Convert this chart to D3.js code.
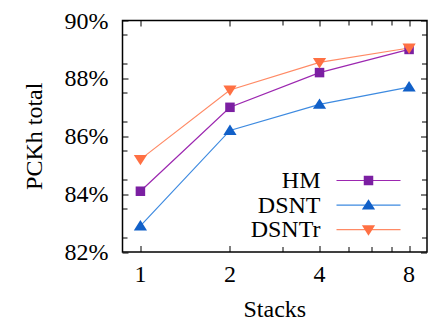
<!DOCTYPE html>
<html>
<head>
<meta charset="utf-8">
<script src="https://cdn.jsdelivr.net/npm/d3@7"></script>
<style>
  @font-face {
    font-family: 'PlotSerif';
    src: local('Liberation Serif'), local('LiberationSerif'), local('LiberationSerif-Regular'), local('Times New Roman');
    font-display: block;
  }
  body { margin: 0; background: #fff; }
</style>
</head>
<body>
<svg id="chart" width="433" height="328"></svg>
<script>
const stacks = [1, 2, 4, 8];
const hmValues = [84.1, 87.0, 88.2, 89.0];
const dsntValues = [82.9, 86.2, 87.1, 87.7];
const dsntrValues = [85.2, 87.6, 88.55, 89.05];
const yTicks = [82, 84, 86, 88, 90];

const series = [
  { name: 'HM', values: hmValues, line: '#9c27b0', fill: '#7b1fa2', symbol: 'square' },
  { name: 'DSNT', values: dsntValues, line: '#3d8ae0', fill: '#1160c8', symbol: 'up' },
  { name: 'DSNTr', values: dsntrValues, line: '#ff8a65', fill: '#ff7043', symbol: 'down' }
];

const svg = d3.select('#chart');
const margin = { top: 20.5, right: 6, bottom: 76, left: 122.5 };
const width = 433 - margin.left - margin.right;
const height = 328 - margin.top - margin.bottom;

const x = d3.scaleLog().base(2)
  .domain([Math.pow(2, -0.2), 8 * Math.pow(2, 0.2)])
  .range([0, width]);
const y = d3.scaleLinear().domain([82, 90]).range([height, 0]);

const g = svg.append('g').attr('transform', `translate(${margin.left},${margin.top})`);

// serif text like the LaTeX original
function serifText(sel) {
  return sel
    .style('font-family', '"Liberation Serif", PlotSerif, "Times New Roman", Times, serif')
    .attr('font-size', 24)
    .attr('fill', '#000');
}

// minor ticks, both sides, pointing inward
const xMinor = [3, 5, 6, 7];
const yMinor = d3.range(82.5, 90, 1);
const tickLen = 5;

function drawMarker(sel, symbol, size) {
  if (symbol === 'square') {
    sel.append('rect')
      .attr('x', -size / 2).attr('y', -size / 2)
      .attr('width', size).attr('height', size);
  } else {
    const h = size * 0.9;
    const s = symbol === 'up' ? 1 : -1;
    sel.append('path')
      .attr('d', `M0,${-s * h * 0.6}L${size * 0.6},${s * h * 0.45}L${-size * 0.6},${s * h * 0.45}Z`);
  }
}

const ticks = g.append('g').attr('stroke', '#000').attr('stroke-width', 1);
stacks.concat(xMinor).forEach(v => {
  const px = Math.round(x(v)) + 0.5;
  const len = stacks.includes(v) ? tickLen + 1 : tickLen;
  ticks.append('line').attr('x1', px).attr('x2', px).attr('y1', height).attr('y2', height - len);
  ticks.append('line').attr('x1', px).attr('x2', px).attr('y1', 0).attr('y2', len);
});
yTicks.concat(yMinor).forEach(v => {
  const py = Math.round(y(v)) + 0.5;
  const len = yTicks.includes(v) ? tickLen + 1 : tickLen;
  ticks.append('line').attr('y1', py).attr('y2', py).attr('x1', 0).attr('x2', len);
  ticks.append('line').attr('y1', py).attr('y2', py).attr('x1', width).attr('x2', width - len);
});

// tick labels
g.append('g').selectAll('text').data(stacks).join('text')
  .attr('x', d => x(d))
  .attr('y', height + 30)
  .attr('text-anchor', 'middle')
  .call(serifText)
  .text(d => d);

g.append('g').selectAll('text').data(yTicks).join('text')
  .attr('x', -14)
  .attr('y', d => y(d) + 8)
  .attr('text-anchor', 'end')
  .call(serifText)
  .text(d => d + '%');

// series lines and markers
const line = d3.line().x((d, i) => x(stacks[i])).y(d => y(d));
series.forEach(s => {
  g.append('path')
    .datum(s.values)
    .attr('fill', 'none')
    .attr('stroke', s.line)
    .attr('stroke-width', 1.2)
    .attr('d', line);
});
series.forEach(s => {
  g.append('g').selectAll('g').data(s.values).join('g')
    .attr('transform', (d, i) => `translate(${x(stacks[i])},${y(d)})`)
    .attr('fill', s.fill)
    .each(function () { drawMarker(d3.select(this), s.symbol, s.symbol === 'square' ? 9.5 : 11); });
});

// frame
g.append('rect')
  .attr('width', width).attr('height', height)
  .attr('fill', 'none').attr('stroke', '#000').attr('stroke-width', 1.5);

// legend
const legend = g.append('g');
series.forEach((s, i) => {
  const ly = 160 + i * 24.6;
  legend.append('text')
    .attr('x', 198).attr('y', ly + 7.5)
    .attr('text-anchor', 'end')
    .call(serifText)
    .text(s.name);
  legend.append('line')
    .attr('x1', 214).attr('x2', 278).attr('y1', ly).attr('y2', ly)
    .attr('stroke', s.line).attr('stroke-width', 1.2);
  const m = legend.append('g').attr('transform', `translate(246,${ly})`).attr('fill', s.fill);
  drawMarker(m, s.symbol, s.symbol === 'square' ? 9.5 : 11);
});

// axis titles
svg.append('text')
  .attr('x', margin.left + x(2.83))
  .attr('y', 317)
  .attr('text-anchor', 'middle')
  .call(serifText)
  .text('Stacks');

svg.append('text')
  .attr('transform', `translate(42,${margin.top + height / 2}) rotate(-90)`)
  .attr('text-anchor', 'middle')
  .call(serifText)
  .text('PCKh total');
</script>
</body>
</html>
